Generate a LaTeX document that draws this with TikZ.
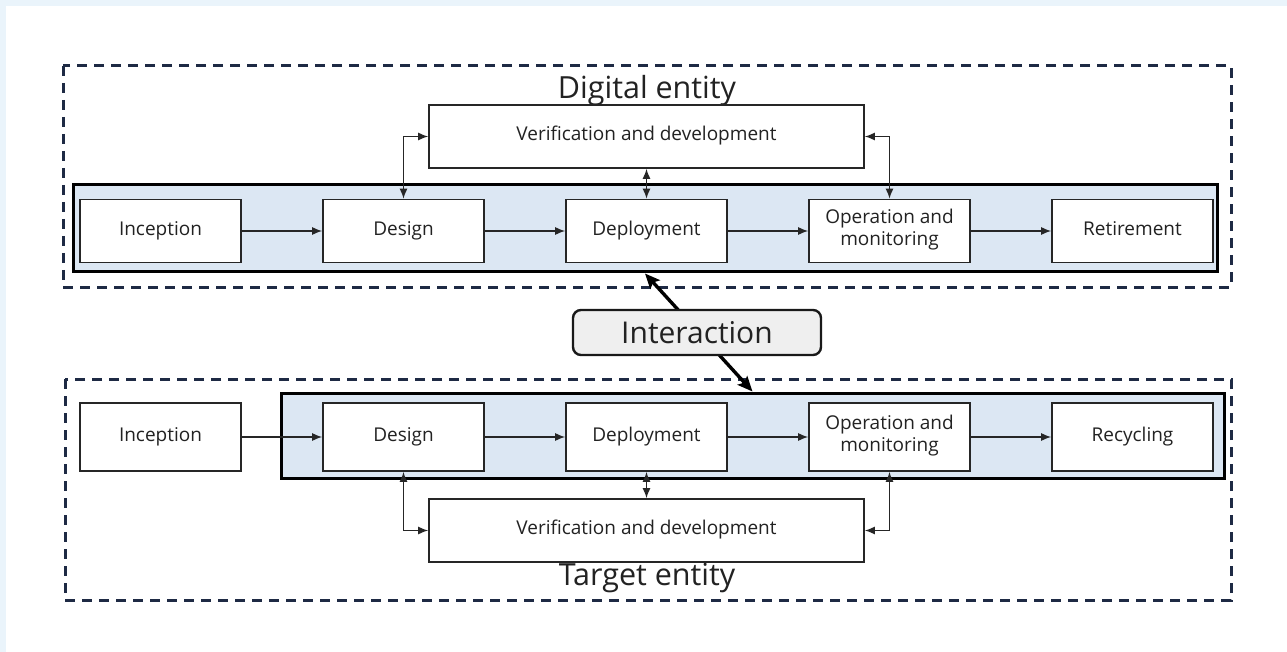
\documentclass[tikz,border=0pt]{standalone}
\usepackage{fontspec}
\setmainfont{Open Sans}
\usetikzlibrary{arrows.meta,positioning}
\definecolor{pageblue}{HTML}{EAF4FB}
\definecolor{bandblue}{HTML}{DCE7F3}
\definecolor{framenavy}{HTML}{1E2A44}
\definecolor{chipgray}{HTML}{EFEFEF}
\definecolor{inkgray}{HTML}{222222}

\begin{document}
\begin{tikzpicture}
  [x=1pt,y=-1pt,
   stage/.style={draw=black!85,line width=1.6pt,fill=white,minimum width=161pt,
     minimum height=63pt,inner sep=0pt,align=center,text=inkgray,
     execute at begin node=\strut,font=\fontsize{19}{22}\selectfont},
   verify/.style={stage,minimum width=435pt},
   band/.style={draw=black,line width=3pt,fill=bandblue,inner sep=0pt},
   frame/.style={draw=framenavy,line width=3pt,dash pattern=on 10pt off 7pt},
   title/.style={text=inkgray,font=\fontsize{30.5}{34}\selectfont},
   flow/.style={-{Latex[length=10pt,width=8pt]},line width=1.4pt,black!85},
   both/.style={flow,{Latex[length=10pt,width=8pt]}-{Latex[length=10pt,width=8pt]}},
   link/.style={{Stealth[length=15pt,width=13pt,inset=3pt]}-{Stealth[length=15pt,width=13pt,inset=3pt]},
     line width=3.4pt,black}]

  % page
  \fill[pageblue] (0,0) rectangle (1287,652);
  \fill[white] (6,6) rectangle (1287,652);
  \useasboundingbox (0,0) rectangle (1287,652);

  % digital entity
  \draw[frame] (63,66) rectangle (1231,287);
  \node[band,minimum width=1144pt,minimum height=87pt] (topband) at (645,228.5) {};
  \node[title] (dtitle) at (647,91) {Digital entity};
  \node[verify] (v1) at (646.5,136.5) {Verification and development};
  \node[stage] (i1) at (160.5,231) {Inception};
  \node[stage] (d1) at (403.5,231) {Design};
  \node[stage] (p1) at (646.5,231) {Deployment};
  \node[stage] (o1) at (889.5,231) {Operation and\\monitoring};
  \node[stage] (r1) at (1132.5,231) {Retirement};

  \foreach \from/\to in {i1/d1,d1/p1,p1/o1,o1/r1}
    \draw[flow] (\from) -- (\to);
  \draw[both] (d1.north) |- (v1.west);
  \draw[both] (o1.north) |- (v1.east);
  \draw[both] (v1.south) -- (p1.north);

  % target entity
  \draw[frame] (65,379) rectangle (1231,600);
  \node[band,minimum width=943pt,minimum height=85pt] (botband) at (752.5,435.5) {};
  \node[title] (ttitle) at (647,578) {Target entity};
  \node[verify] (v2) at (646.5,530.5) {Verification and development};
  \node[stage,minimum height=68pt] (i2) at (160.5,437) {Inception};
  \node[stage,minimum height=68pt] (d2) at (403.5,437) {Design};
  \node[stage,minimum height=68pt] (p2) at (646.5,437) {Deployment};
  \node[stage,minimum height=68pt] (o2) at (889.5,437) {Operation and\\monitoring};
  \node[stage,minimum height=68pt] (r2) at (1132.5,437) {Recycling};

  \foreach \from/\to in {i2/d2,d2/p2,p2/o2,o2/r2}
    \draw[flow] (\from) -- (\to);
  \draw[both] (d2.south) |- (v2.west);
  \draw[both] (o2.south) |- (v2.east);
  \draw[both] (v2.north) -- (p2.south);

  % interaction
  \draw[link] (topband.south) -- (botband.north);
  \node[draw=black!90,line width=2.4pt,fill=chipgray,rounded corners=8pt,
    minimum width=248pt,minimum height=45pt,text=inkgray,
    font=\fontsize{30}{34}\selectfont] (inter) at (697,332.5) {Interaction};

\end{tikzpicture}
\end{document}
